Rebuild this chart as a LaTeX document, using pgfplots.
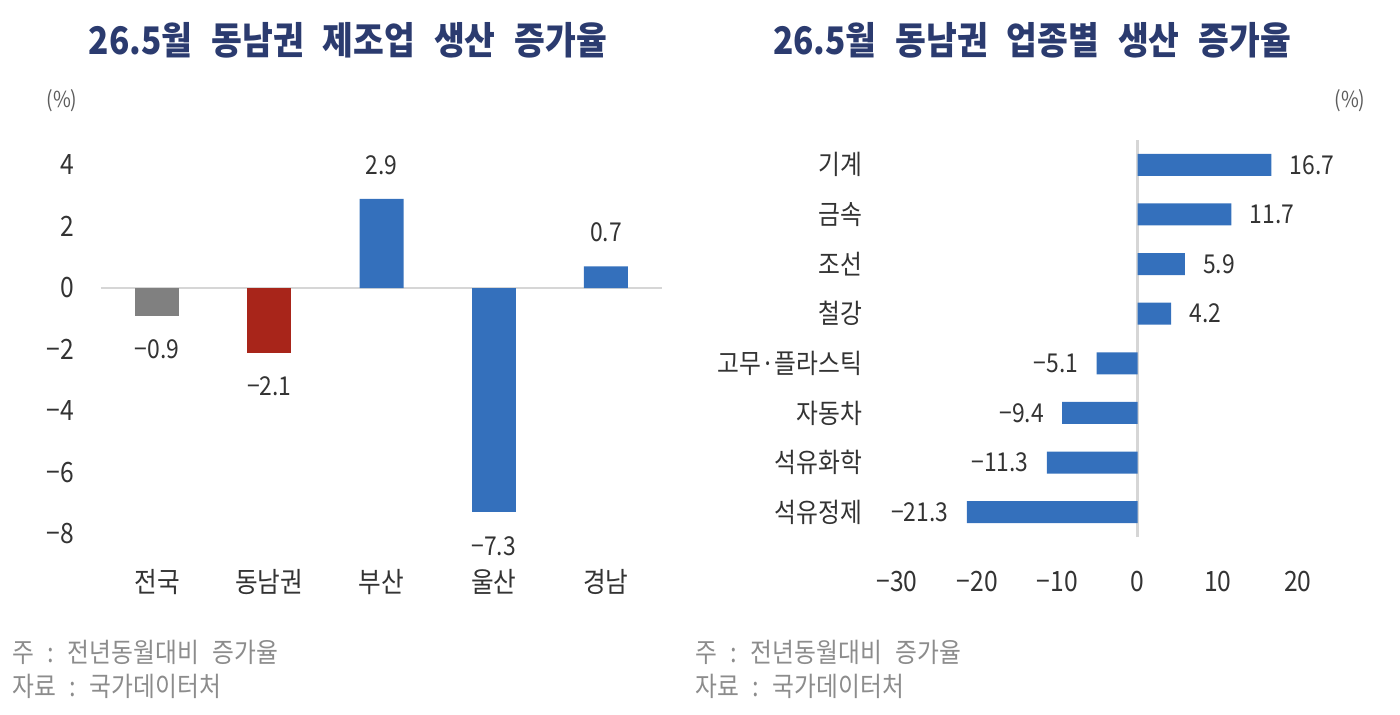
\documentclass[border=0pt]{standalone}
\usepackage{fontspec}
\setmainfont{Noto Sans CJK KR}[FakeStretch=0.88]
\usepackage{pgfplots}
\pgfplotsset{compat=1.18}

\definecolor{barblue}{HTML}{3470BC}
\definecolor{bargray}{HTML}{808080}
\definecolor{barred}{HTML}{A8251A}
\definecolor{titlenavy}{HTML}{2B3B6F}
\definecolor{ticktext}{HTML}{333333}
\definecolor{notegray}{HTML}{8C8C8C}
\definecolor{zeroline}{HTML}{D6D6D6}

\pgfplotsset{
  plainaxis/.style={
    scale only axis,
    axis line style={draw=none},
    tick style={draw=none},
    ticklabel style={text=ticktext},
    point meta=explicit symbolic,
    every node near coord/.append style={font=\fontsize{13}{15}\selectfont, text=ticktext},
  },
  valabove/.style={nodes near coords, nodes near coords style={anchor=south, inner sep=0pt, yshift=12pt}},
  valbelow/.style={nodes near coords, nodes near coords style={anchor=north, inner sep=0pt, yshift=-12pt}},
  valright/.style={nodes near coords, nodes near coords style={anchor=west, inner sep=0pt, xshift=9pt}},
  valleft/.style={nodes near coords, nodes near coords style={anchor=east, inner sep=0pt, xshift=-9pt}},
}

\begin{document}
\begin{tikzpicture}
\path (0,0) rectangle (700pt,357pt);

% ---------- left: regional manufacturing output ----------
\node[font=\bfseries\fontsize{19}{22}\selectfont, text=titlenavy] at (174pt,337pt)
  {26.5월\enspace 동남권\enspace 제조업\enspace 생산\enspace 증가율};
\node[font=\fontsize{11}{13}\selectfont, text=ticktext!80] at (31pt,306.5pt) {(\%)};

\begin{axis}[
  plainaxis,
  at={(50.45pt,90pt)}, anchor=south west,
  width=280.6pt, height=184.5pt,
  xmin=-0.5, xmax=4.5, ymin=-8, ymax=4,
  ybar, bar width=22pt, bar shift=0pt,
  xtick={0,1,2,3,4},
  xticklabels={전국,동남권,부산,울산,경남},
  xticklabel style={font=\fontsize{14}{16}\selectfont, yshift=-10pt},
  ytick={-8,-6,-4,-2,0,2,4},
  yticklabels={−8,−6,−4,−2,0,2,4},
  yticklabel style={font=\fontsize{14}{16}\selectfont, xshift=-10pt},
  extra y ticks={0}, extra y tick labels={},
  extra y tick style={grid=major, major grid style={zeroline, line width=1.1pt}},
]
\addplot[fill=bargray, draw=none, valbelow] coordinates {(0,-0.9) [−0.9]};
\addplot[fill=barred, draw=none, valbelow] coordinates {(1,-2.1) [−2.1]};
\addplot[fill=barblue, draw=none, valabove] coordinates {(2,2.9) [2.9] (4,0.7) [0.7]};
\addplot[fill=barblue, draw=none, valbelow] coordinates {(3,-7.3) [−7.3]};
\end{axis}

\node[anchor=west, inner sep=0pt, font=\fontsize{13.5}{15}\selectfont, text=notegray] at (6pt,31pt) {주\enspace:\enspace 전년동월대비\enspace 증가율};
\node[anchor=west, inner sep=0pt, font=\fontsize{13.5}{15}\selectfont, text=notegray] at (6pt,14pt) {자료\enspace:\enspace 국가데이터처};

% ---------- right: output by industry ----------
\node[font=\bfseries\fontsize{19}{22}\selectfont, text=titlenavy] at (516pt,337pt)
  {26.5월\enspace 동남권\enspace 업종별\enspace 생산\enspace 증가율};
\node[font=\fontsize{11}{13}\selectfont, text=ticktext!80] at (675pt,306.5pt) {(\%)};

\begin{axis}[
  plainaxis,
  at={(448.5pt,88.5pt)}, anchor=south west,
  width=220.5pt, height=198.5pt,
  xmin=-30, xmax=25, ymin=-0.5, ymax=7.5,
  xbar, bar width=11pt, bar shift=0pt,
  xtick={-30,-20,-10,0,10,20},
  xticklabels={−30,−20,−10,0,10,20},
  xticklabel style={font=\fontsize{14}{16}\selectfont, yshift=-13.5pt},
  ytick={0,1,2,3,4,5,6,7},
  yticklabels={석유정제,석유화학,자동차,고무·플라스틱,철강,조선,금속,기계},
  yticklabel style={font=\fontsize{13.5}{15}\selectfont, xshift=-9.5pt},
  extra x ticks={0}, extra x tick labels={},
  extra x tick style={grid=major, major grid style={zeroline, line width=1.1pt}},
]
\addplot[fill=barblue, draw=none, valright] coordinates {
  (16.7,7) [16.7]
  (11.7,6) [11.7]
  (5.9,5) [5.9]
  (4.2,4) [4.2]
};
\addplot[fill=barblue, draw=none, valleft] coordinates {
  (-5.1,3) [−5.1]
  (-9.4,2) [−9.4]
  (-11.3,1) [−11.3]
  (-21.3,0) [−21.3]
};
\end{axis}

\node[anchor=west, inner sep=0pt, font=\fontsize{13.5}{15}\selectfont, text=notegray] at (347.5pt,31pt) {주\enspace:\enspace 전년동월대비\enspace 증가율};
\node[anchor=west, inner sep=0pt, font=\fontsize{13.5}{15}\selectfont, text=notegray] at (347.5pt,14pt) {자료\enspace:\enspace 국가데이터처};
\end{tikzpicture}
\end{document}
